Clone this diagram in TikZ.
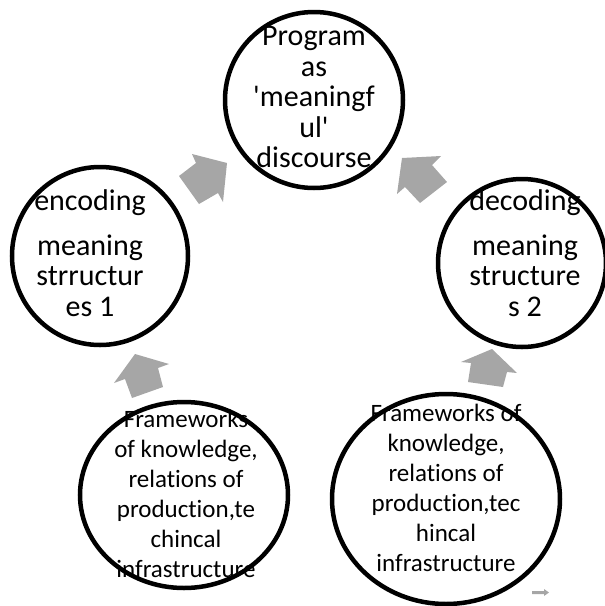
\documentclass[tikz,border=0pt]{standalone}
\usepackage{fontspec}
\setmainfont{Carlito}[Ligatures=NoCommon]
\usetikzlibrary{shapes.geometric}
\definecolor{arrowgray}{RGB}{166,166,166}
\newcommand{\sq}{\textquotesingle}
\tikzset{
  ring/.style={draw=black, line width=4.5pt, ellipse, inner sep=0pt},
  bigtxt/.style={align=center, font=\fontsize{30}{30.5}\selectfont, inner sep=0pt},
  smalltxt/.style={align=center, font=\fontsize{25}{30}\selectfont, inner sep=0pt},
  blockarrow/.style={fill=arrowgray, draw=none}
}
\begin{document}
\begin{tikzpicture}[x=1pt, y=-1pt]
\useasboundingbox (0,0) rectangle (605,606);

% circles of the cycle
\node[ring, minimum width=178pt, minimum height=176pt] (prog) at (314,100) {};
\node[ring, minimum width=176pt, minimum height=178pt] (enc) at (100,256) {};
\node[ring, minimum width=168pt, minimum height=168pt] (dec) at (522,263) {};
\node[ring, minimum width=208pt, minimum height=186pt] (fwl) at (184,495) {};
\node[ring, minimum width=228pt, minimum height=210pt] (fwr) at (446,499) {};

% texts
\node[bigtxt] (progtxt) at (314,97) {Program\\as\\\sq meaningf\\ul\sq\\discourse};
\node[bigtxt] (enctxt) at (90,253) {encoding\\[14pt]meaning\\strructur\\es 1};
\node[bigtxt] (dectxt) at (525,253) {decoding\\[14pt]meaning\\structure\\s 2};
\node[smalltxt] (fwltxt) at (186,494) {Frameworks\\of knowledge,\\relations of\\production,te\\chincal\\infrastructure};
\node[smalltxt] (fwrtxt) at (446,488) {Frameworks of\\knowledge,\\relations of\\production,tec\\hincal\\infrastructure};

% block arrows between the circles
\fill[blockarrow] (227,163) -- (192,154) -- (196,163) -- (179,176) -- (199,204) -- (218,193) -- (223,202) -- cycle;
\fill[blockarrow] (402,158) -- (441,156) -- (432,165) -- (447,182) -- (420,203) -- (405,187) -- (397,194) -- cycle;
\fill[blockarrow] (135,354) -- (169,364) -- (158,368) -- (163,387) -- (132,398) -- (125,379) -- (114,383) -- cycle;
\fill[blockarrow] (492,349) -- (517,373) -- (507,372) -- (503,387) -- (468,382) -- (471,363) -- (461,362) -- cycle;

% small arrow in the corner
\fill[blockarrow] (532,591) -- (544,591) -- (544,589) -- (549,592.5) -- (544,596) -- (544,594) -- (532,594) -- cycle;
\end{tikzpicture}
\end{document}
